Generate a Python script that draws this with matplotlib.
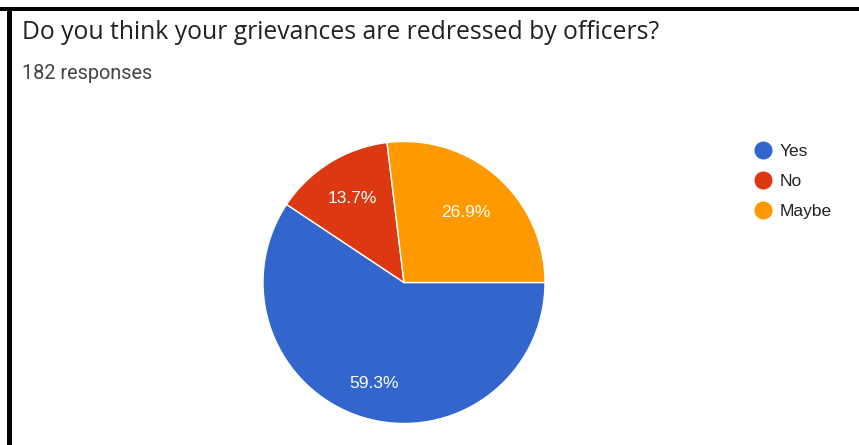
import numpy as np
import matplotlib.pyplot as plt
from matplotlib.lines import Line2D
from matplotlib.patches import Rectangle

# survey data
labels = ['Yes', 'No', 'Maybe']
counts = [108, 25, 49]   # 182 responses -> 59.3 / 13.7 / 26.9 %
colors = ['#3366cc', '#dc3912', '#ff9900']
question = 'Do you think your grievances are redressed by officers?'
n_responses = sum(counts)

plt.rcParams['font.family'] = ['Liberation Sans', 'DejaVu Sans']

W, H = 859, 445
fig = plt.figure(figsize=(W / 100, H / 100), dpi=100)
fig.patch.set_facecolor('white')

# screenshot frame (top and left black edges)
fig.add_artist(Rectangle((0, (H - 11) / H), 1, 4 / H, transform=fig.transFigure,
                         facecolor='black', edgecolor='none'))
fig.add_artist(Rectangle((7 / W, 0), 5 / W, (H - 7) / H, transform=fig.transFigure,
                         facecolor='black', edgecolor='none'))

title = fig.text(22 / W, 1 - 39 / H, question, fontsize=16, color='#202124',
                 va='baseline', ha='left', family=['Open Sans', 'DejaVu Sans'])
sub = fig.text(22 / W, 1 - 79 / H, f'{n_responses} responses', fontsize=13,
               color='#444444', va='baseline', ha='left',
               family=['Roboto', 'DejaVu Sans'])

# stretch header text to the widths seen in the screenshot
renderer = fig.canvas.get_renderer()
for t, target in [(title, 640), (sub, 130)]:
    w = t.get_window_extent(renderer).width
    t.set_fontsize(t.get_fontsize() * target / w)

# pie
cx, cy, r = 404, 282.5, 141
ax = fig.add_axes([(cx - r) / W, (H - cy - r) / H, 2 * r / W, 2 * r / H])
wedges, _ = ax.pie(
    counts, colors=colors, startangle=0, counterclock=False,
    wedgeprops=dict(edgecolor='white', linewidth=1))
ax.set_xlim(-1, 1)
ax.set_ylim(-1, 1)
ax.set_aspect('auto')
ax.axis('off')

# percentage labels
label_dist = [0.745, 0.70, 0.665]
total = sum(counts)
for wdg, c, d in zip(wedges, counts, label_dist):
    mid = np.deg2rad((wdg.theta1 + wdg.theta2) / 2)
    ax.text(d * np.cos(mid), d * np.sin(mid), f'{100 * c / total:.1f}%',
            color='white', fontsize=12.5, ha='center', va='center')

# legend
handles = [Line2D([0], [0], marker='o', linestyle='none', markersize=12,
                  markerfacecolor=c, markeredgecolor=c) for c in colors]
fig.legend(handles, labels, loc='upper left',
           bbox_to_anchor=(747 / W, 1 - 135 / H), frameon=False,
           fontsize=12.5, labelcolor='#222222', handlelength=0.9,
           handletextpad=0.5, labelspacing=0.85, borderpad=0)

fig.savefig('out.png', dpi=100)
